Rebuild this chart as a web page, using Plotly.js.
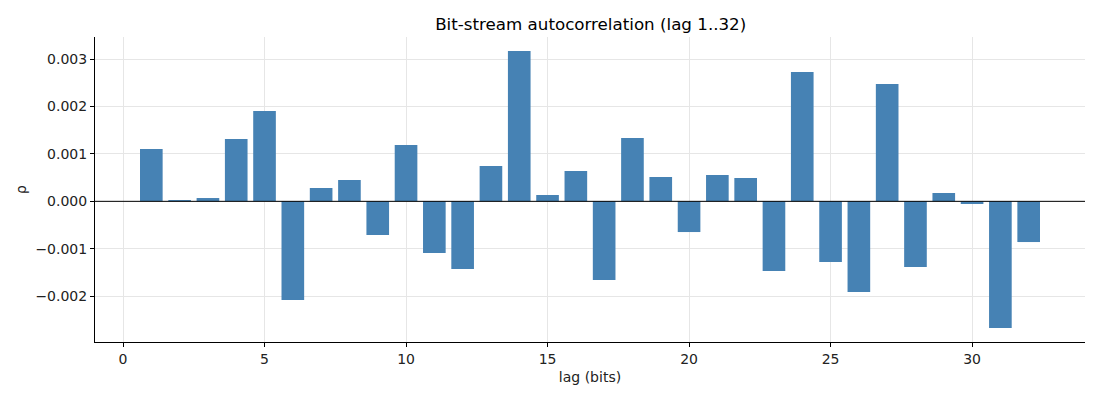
<!DOCTYPE html>
<html lang="en">
<head>
    <meta charset="UTF-8">
    <title>Autocorrelation</title>
    <script src="https://cdn.plot.ly/plotly-3.0.1.min.js"></script>
    <style>body { margin: 0; }</style>
</head>
<body>
<div id="plot" style="width:1100px;height:400px;"></div>
<script>
    // lags 1..32 and the measured autocorrelation for each
    const lags = [1,2,3,4,5,6,7,8,9,10,11,12,13,14,15,16,17,18,19,20,21,22,23,24,25,26,27,28,29,30,31,32]
    const rho = [
        0.001106, 0.000028, 0.000070, 0.001317, 0.001908, -0.002085, 0.000282, 0.000451,
        -0.000711, 0.001190, -0.001092, -0.001430, 0.000746, 0.003176, 0.000134, 0.000641,
        -0.001662, 0.001338, 0.000514, -0.000648, 0.000556, 0.000493, -0.001472, 0.002732,
        -0.001282, -0.001915, 0.002479, -0.001387, 0.000176, -0.000056, -0.002676, -0.000859
    ]
    const xTicks = [0, 5, 10, 15, 20, 25, 30]
    const yTicks = [-0.002, -0.001, 0, 0.001, 0.002, 0.003]

    const bars = {
        x: lags,
        y: rho,
        type: 'bar',
        width: 0.8,
        marker: {color: '#4682b4'},
        hoverinfo: 'x+y'
    }

    const font = {family: 'DejaVu Sans', size: 14, color: '#222'}

    const layout = {
        width: 1100,
        height: 400,
        margin: {l: 95, r: 15, t: 37, b: 58},
        paper_bgcolor: 'white',
        plot_bgcolor: 'white',
        font: font,
        showlegend: false,
        title: {
            text: 'Bit-stream autocorrelation (lag 1..32)',
            font: {family: 'DejaVu Sans', size: 16.7, color: '#000'},
            x: 0.537, xanchor: 'center', y: 0.94, yanchor: 'middle'
        },
        xaxis: {
            range: [-0.99, 33.99],
            tickvals: xTicks,
            ticks: 'outside', ticklen: 4, tickcolor: '#000',
            showline: true, linecolor: '#000', linewidth: 1,
            showgrid: true, gridcolor: '#e6e6e6',
            zeroline: false,
            title: {text: 'lag (bits)', font: font, standoff: 6}
        },
        yaxis: {
            range: [-0.002969, 0.003469],
            tickvals: yTicks,
            tickformat: '.3f',
            ticks: 'outside', ticklen: 4, tickcolor: '#000',
            showline: true, linecolor: '#000', linewidth: 1,
            showgrid: true, gridcolor: '#e6e6e6',
            zeroline: false,
            title: {text: 'ρ', font: font, standoff: 5}
        },
        shapes: [{
            type: 'line', xref: 'paper', yref: 'y',
            x0: 0, x1: 1, y0: 0, y1: 0,
            line: {color: '#000', width: 1},
            layer: 'above'
        }]
    }

    Plotly.newPlot('plot', [bars], layout, {displayModeBar: false, staticPlot: true})
</script>
</body>
</html>
